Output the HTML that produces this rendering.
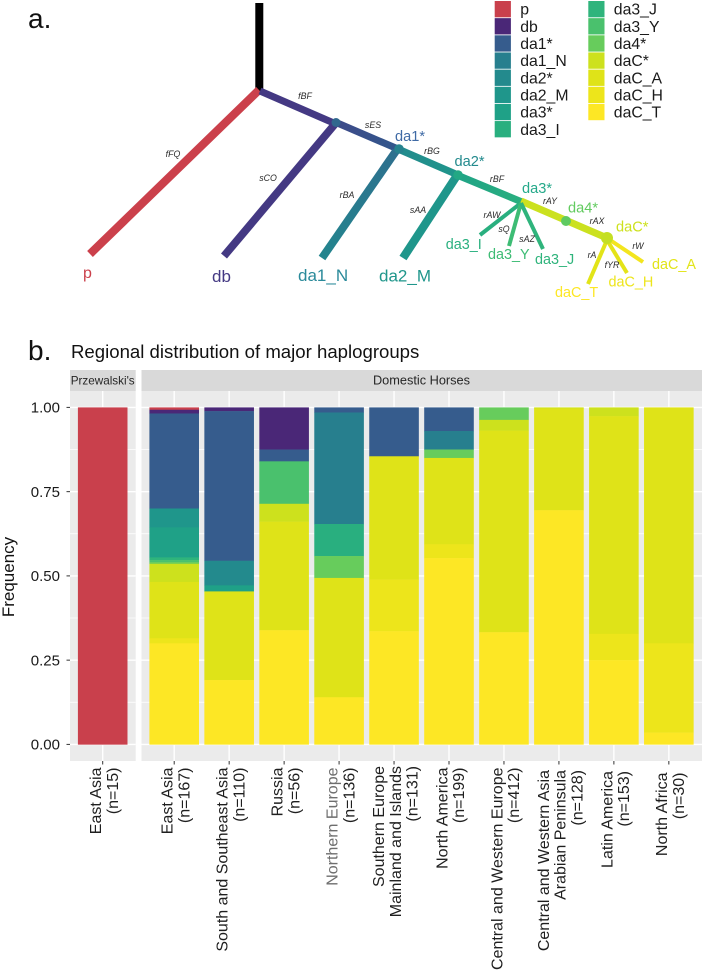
<!DOCTYPE html>
<html lang="en">
<head>
<meta charset="utf-8">
<title>Haplogroup tree and regional distribution</title>
<style>
html,body{margin:0;padding:0;background:#fff;}
body{width:702px;height:972px;overflow:hidden;}
svg{display:block;font-family:"Liberation Sans",Arial,sans-serif;}
.sm{font-size:8.8px;font-style:italic;fill:#2a2a2a;text-anchor:middle;}
.leg{font-size:15.8px;fill:#1a1a1a;}
</style>
</head>
<body>
<svg id="fig" xmlns="http://www.w3.org/2000/svg" width="702" height="972" viewBox="0 0 702 972">
  <defs>
    <linearGradient id="g-ses" gradientUnits="userSpaceOnUse" x1="335" y1="122" x2="398" y2="149"><stop offset="0" stop-color="#3e4a89"/><stop offset="1" stop-color="#31578c"/></linearGradient>
    <linearGradient id="g-n" gradientUnits="userSpaceOnUse" x1="398" y1="149" x2="322" y2="258"><stop offset="0" stop-color="#2e6f8e"/><stop offset="1" stop-color="#23858e"/></linearGradient>
    <linearGradient id="g-bg" gradientUnits="userSpaceOnUse" x1="398" y1="149" x2="457" y2="175"><stop offset="0" stop-color="#238a8d"/><stop offset="1" stop-color="#1f968b"/></linearGradient>
    <linearGradient id="g-bf" gradientUnits="userSpaceOnUse" x1="457" y1="175" x2="521" y2="201"><stop offset="0" stop-color="#20a386"/><stop offset="1" stop-color="#29af7f"/></linearGradient>
  </defs>

  <g id="tree" fill="none" stroke-linecap="butt">
    <line x1="259.3" y1="3" x2="259.3" y2="91" stroke="#000" stroke-width="8"/>
    <line x1="259" y1="90" x2="90" y2="254" stroke="#cb404b" stroke-width="8.2"/>
    <line x1="260" y1="91" x2="336" y2="124" stroke="#443983" stroke-width="7"/>
    <line x1="335" y1="124" x2="224" y2="256" stroke="#443983" stroke-width="7.8"/>
    <line x1="335" y1="122" x2="398" y2="149" stroke="url(#g-ses)" stroke-width="7"/>
    <line x1="396" y1="151" x2="322" y2="258" stroke="url(#g-n)" stroke-width="8"/>
    <line x1="398" y1="149" x2="458" y2="175" stroke="url(#g-bg)" stroke-width="7"/>
    <line x1="456" y1="177" x2="403" y2="258" stroke="#1f968b" stroke-width="8.4"/>
    <line x1="457" y1="175" x2="522" y2="202" stroke="url(#g-bf)" stroke-width="7"/>
    <line x1="521" y1="201" x2="607" y2="238" stroke="#cbe11f" stroke-width="7.2"/>
    <line x1="521" y1="203" x2="480" y2="235" stroke="#29af7f" stroke-width="4"/>
    <line x1="521" y1="203" x2="509" y2="246" stroke="#3dbc74" stroke-width="4"/>
    <line x1="521" y1="203" x2="543" y2="249" stroke="#2fb47c" stroke-width="4"/>
    <line x1="607" y1="240" x2="588" y2="284" stroke="#e2e418" stroke-width="4"/>
    <line x1="607" y1="240" x2="627" y2="273" stroke="#e4e318" stroke-width="4"/>
    <line x1="607" y1="238" x2="643" y2="262" stroke="#f3e51e" stroke-width="4"/>
    <circle cx="336" cy="122.5" r="4.5" fill="#31688e"/>
    <circle cx="399" cy="149" r="4.8" fill="#26828e"/>
    <circle cx="458" cy="175" r="4.8" fill="#22a884"/>
    <circle cx="566" cy="221" r="5" fill="#5fca61"/>
    <circle cx="607" cy="238" r="6" fill="#c4df23"/>
  </g>

  <g id="branch-labels">
    <text class="sm" x="305" y="99">fBF</text>
    <text class="sm" x="173" y="157">fFQ</text>
    <text class="sm" x="268" y="181">sCO</text>
    <text class="sm" x="347" y="198">rBA</text>
    <text class="sm" x="373" y="128">sES</text>
    <text class="sm" x="432" y="154">rBG</text>
    <text class="sm" x="497" y="182">rBF</text>
    <text class="sm" x="550" y="204">rAY</text>
    <text class="sm" x="597" y="224">rAX</text>
    <text class="sm" x="492" y="218">rAW</text>
    <text class="sm" x="504" y="232">sQ</text>
    <text class="sm" x="527" y="242">sAZ</text>
    <text class="sm" x="418" y="213">sAA</text>
    <text class="sm" x="638" y="249">rW</text>
    <text class="sm" x="592" y="258">rA</text>
    <text class="sm" x="612" y="268">fYR</text>
  </g>

  <g id="tip-labels">
    <text x="83" y="278" font-size="16" fill="#cb404b">p</text>
    <text x="212" y="282" font-size="17" fill="#443983">db</text>
    <text x="298" y="281" font-size="17" fill="#2a8a9a">da1_N</text>
    <text x="379" y="281.5" font-size="17" fill="#1f968b">da2_M</text>
    <text x="395" y="141" font-size="14.6" fill="#3f6aa5">da1*</text>
    <text x="454.5" y="166" font-size="14.6" fill="#238a8d">da2*</text>
    <text x="522" y="193" font-size="14.6" fill="#25a98a">da3*</text>
    <text x="568" y="212.7" font-size="14.6" fill="#62cb5f">da4*</text>
    <text x="616" y="231.7" font-size="14.6" fill="#cde11d">daC*</text>
    <text x="445.7" y="249" font-size="14.4" fill="#2ab07f">da3_I</text>
    <text x="488" y="259" font-size="14.4" fill="#3dbc74">da3_Y</text>
    <text x="535" y="264" font-size="14.4" fill="#2fb47c">da3_J</text>
    <text x="652" y="269" font-size="14.4" fill="#e2e418">daC_A</text>
    <text x="608.5" y="286.7" font-size="14.4" fill="#ede51b">daC_H</text>
    <text x="555" y="297" font-size="14.4" fill="#fde725">daC_T</text>
  </g>

  <g id="legend"></g>

  <text x="28" y="28" font-size="28" fill="#111">a.</text>
  <text x="28" y="360" font-size="28" fill="#111">b.</text>
  <text x="71" y="358" font-size="18.6" fill="#111">Regional distribution of major haplogroups</text>

  <g id="chart"></g>
</svg>

<script>
// Chart data: one array per haplogroup, one value per region (fractions)
const haplogroups = ['p','db','da1*','da1_N','da2*','da2_M','da3*','da3_I','da3_J','da3_Y','da4*','daC*','daC_A','daC_H','daC_T'];
const palette = ['#c9404c','#4a2777','#365c8d','#277f8e','#238a8d','#1f968b','#1fa187','#29af7f','#2fb47c','#4ac16d','#67cc5c','#cde11d','#dfe318','#ede51b','#fde725'];
const regions = [
  ['East Asia','(n=15)'],
  ['East Asia','(n=167)'],
  ['South and Southeast Asia','(n=110)'],
  ['Russia','(n=56)'],
  ['Northern Europe','(n=136)'],
  ['Southern Europe','Mainland and Islands','(n=131)'],
  ['North America','(n=199)'],
  ['Central and Western Europe','(n=412)'],
  ['Central and Western Asia','Arabian Peninsula','(n=128)'],
  ['Latin America','(n=153)'],
  ['North Africa','(n=30)']
];
const facets = ["Przewalski's", 'Domestic Horses'];
const yTicks = ['0.00','0.25','0.50','0.75','1.00'];
const yMinor = [0.125,0.375,0.625,0.875];

const pValues    = [1,0.007,0,0,0,0,0,0,0,0,0];
const dbValues   = [0,0.011,0.011,0.125,0,0,0,0,0,0,0];
const da1Values  = [0,0.282,0.444,0.035,0.015,0.145,0.07,0,0,0,0];
const da1NValues = [0,0,0,0,0.331,0,0.055,0,0,0,0];
const da2Values  = [0,0,0.073,0,0,0,0,0,0,0,0];
const da2MValues = [0,0.056,0,0,0,0,0,0,0,0,0];
const da3Values  = [0,0.089,0.018,0,0,0,0,0,0,0,0];
const da3IValues = [0,0,0,0,0.095,0,0,0,0,0,0];
const da3JValues = [0,0.008,0,0,0,0,0,0,0,0,0];
const da3YValues = [0,0.006,0,0.126,0,0,0,0,0,0,0];
const da4Values  = [0,0.005,0,0,0.065,0,0.025,0.037,0,0,0];
const daCValues  = [0,0.054,0,0.053,0,0,0,0.032,0.003,0.026,0];
const daCAValues = [0,0.167,0.263,0.322,0.354,0.366,0.256,0.598,0.302,0.646,0.7];
const daCHValues = [0,0.015,0,0,0,0.153,0.041,0,0,0.078,0.265];
const daCTValues = [0,0.30,0.191,0.339,0.14,0.336,0.553,0.333,0.695,0.25,0.035];
const seriesValues = [pValues,dbValues,da1Values,da1NValues,da2Values,da2MValues,da3Values,da3IValues,da3JValues,da3YValues,da4Values,daCValues,daCAValues,daCHValues,daCTValues];

const NS = 'http://www.w3.org/2000/svg';
const chart = document.getElementById('chart');
const legend = document.getElementById('legend');

function make(tag, attrs, parent, text) {
  const el = document.createElementNS(NS, tag);
  for (const k in attrs) el.setAttribute(k, attrs[k]);
  if (text !== undefined) el.textContent = text;
  parent.appendChild(el);
  return el;
}

// axis functions
function yScale(v) { return 744.4 - v * 337; }
function xScale(i) { return i === 0 ? 102.7 : 174.2 + (i - 1) * 54.96; }
function labelTop(i) {
  if (i === 5) return 766;
  if (i === 8) return 770;
  if (i === 9) return 771;
  if (i === 10) return 772.5;
  return 767.5;
}
const barWidth = 49.6;
const panelTop = 391, panelBottom = 761;
const panelBounds = [[70, 135.7], [141.5, 702]];
const panelMembers = [[0], [1,2,3,4,5,6,7,8,9,10]];

// panels, strips, grid
panelBounds.forEach(function (b, p) {
  const strip = make('rect', {x:b[0], y:370, width:b[1]-b[0], height:panelTop-370, fill:'#d9d9d9'}, chart);
  
  
  const stripLabel = make('text', {x:p === 0 ? 102.7 : 421.5, y:384.5, 'font-size':p === 0 ? 11.7 : 12.75, fill:'#262626', 'text-anchor':'middle'}, chart, facets[p]);
  
  
  const panel = make('rect', {x:b[0], y:panelTop, width:b[1]-b[0], height:panelBottom-panelTop, fill:'#ebebeb'}, chart);
  
  
  yMinor.forEach(function (v) {
    const g = make('line', {x1:b[0], x2:b[1], y1:yScale(v), y2:yScale(v), stroke:'#fff', 'stroke-width':0.7}, chart);
    
    
  });
  yTicks.forEach(function (t) {
    const g = make('line', {x1:b[0], x2:b[1], y1:yScale(+t), y2:yScale(+t), stroke:'#fff', 'stroke-width':1.4}, chart);
    
    
  });
  panelMembers[p].forEach(function (i) {
    const g = make('line', {x1:xScale(i), x2:xScale(i), y1:panelTop, y2:panelBottom, stroke:'#fff', 'stroke-width':1.4}, chart);
    
    
  });
});

// stacked bars: first series sits on top
regions.forEach(function (lines, i) {
  let top = 1;
  seriesValues.forEach(function (vals, s) {
    const v = vals[i];
    if (!v) return;
    const seg = make('rect', {x:xScale(i)-barWidth/2, y:yScale(top), width:barWidth, height:v*337+0.25, fill:palette[s]}, chart);
    
    
    top -= v;
  });
});

// y axis
yTicks.forEach(function (t) {
  const tick = make('line', {x1:66.5, x2:70, y1:yScale(+t), y2:yScale(+t), stroke:'#333', 'stroke-width':1}, chart);
  
  
  const lab = make('text', {x:60, y:yScale(+t)+5.3, 'font-size':15, fill:'#1a1a1a', 'text-anchor':'end'}, chart, t);
  
  
});
const yTitle = make('text', {transform:'translate(14,577) rotate(-90)', 'font-size':17, fill:'#111', 'text-anchor':'middle'}, chart, 'Frequency');



// x axis
regions.forEach(function (lines, i) {
  const cx = xScale(i);
  const tick = make('line', {x1:cx, x2:cx, y1:761, y2:764.5, stroke:'#333', 'stroke-width':1}, chart);
  
  
  const n = lines.length;
  lines.forEach(function (ln, j) {
    const base = cx + 1.2 + (j - (n - 1) / 2) * 16.8 + 5.6;
    const fill = ln === 'Northern Europe' ? '#6e6e6e' : '#1f1f1f';
    const lab = make('text', {transform:'translate(' + base + ',' + labelTop(i) + ') rotate(-90)', 'font-size':16, fill:fill, 'text-anchor':'end'}, chart, ln);
    
    
  });
});

// legend
haplogroups.forEach(function (h, k) {
  const col = k < 8 ? 0 : 1;
  const row = k < 8 ? k : k - 8;
  const kx = col === 0 ? 494.7 : 588.3;
  const ky = 1 + row * 17.15;
  const key = make('rect', {x:kx, y:ky, width:16.2, height:16.3, fill:palette[k]}, legend);
  
  
  const lab = make('text', {x:kx + 25.5, y:ky + 13.7, class:'leg'}, legend, h);
  
  
});
</script>
</body>
</html>
